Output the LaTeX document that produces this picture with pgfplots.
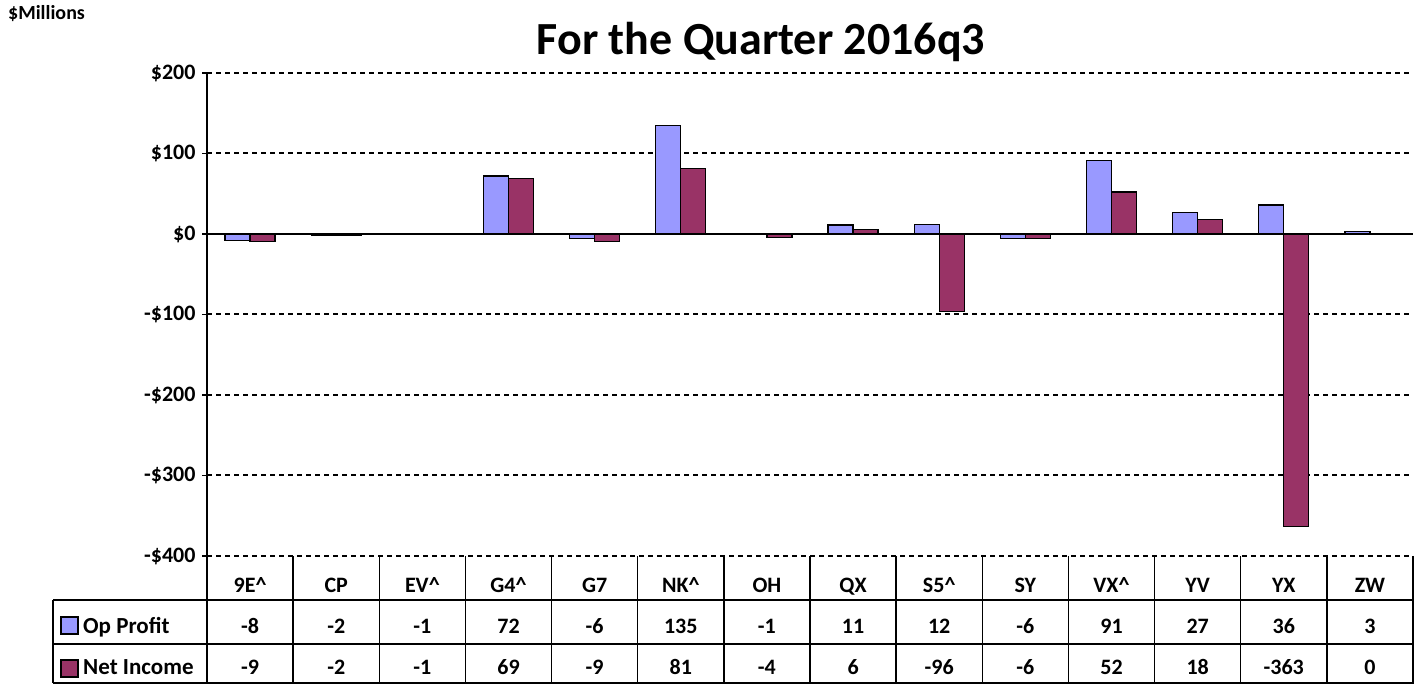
\documentclass[border=0pt]{standalone}
\usepackage{fontspec}
\setmainfont{Carlito}
\usepackage{pgfplots}
\pgfplotsset{compat=1.18}
\definecolor{opblue}{HTML}{9999FF}
\definecolor{netred}{HTML}{993366}
\begin{document}
\begin{tikzpicture}[x=1pt,y=1pt]
\useasboundingbox (0,0) rectangle (1414,684);
\clip (0,0) rectangle (1414,684);
\begin{axis}[at={(207pt,128pt)}, anchor=south west, scale only axis,
  width=1206pt, height=483pt,
  xmin=-0.5, xmax=13.5, ymin=-400, ymax=200,
  ybar=0pt, bar width=25pt,
  xtick=\empty,
  ytick={-400,-300,-200,-100,0,100,200},
  yticklabels={-\$400,-\$300,-\$200,-\$100,\$0,\$100,\$200},
  axis x line=none, axis y line*=left,
  ymajorgrids,
  grid style={black, line width=2pt, dash pattern=on 4.5pt off 4.5pt},
  y axis line style={black, line width=1.5pt, -},
  ytick style={black, line width=1.5pt},
  major tick length=10pt, tick align=center,
  yticklabel style={font=\fontsize{22}{26}\selectfont\bfseries, xshift=-3pt},
  clip=false]
\addplot[fill=opblue, draw=black, line width=1.3pt] coordinates {(0,-8) (1,-2) (2,-1) (3,72) (4,-6) (5,135) (6,-1) (7,11) (8,12) (9,-6) (10,91) (11,27) (12,36) (13,3)};
\addplot[fill=netred, draw=black, line width=1.3pt] coordinates {(0,-9) (1,-2) (2,-1) (3,69) (4,-9) (5,81) (6,-4) (7,6) (8,-96) (9,-6) (10,52) (11,18) (12,-363) (13,0)};
\draw[black, line width=1.5pt] (axis cs:-0.5,0) -- (axis cs:13.5,0);
\end{axis}
% titles
\node[anchor=base west, inner sep=0] at (477,691) {\fontsize{44}{48}\selectfont\bfseries Operating Profit and Net Income (Loss)};
\node[anchor=base, inner sep=0] at (761,629) {\fontsize{46}{50}\selectfont\bfseries For the Quarter 2016q3};
\node[anchor=base west, inner sep=0] at (8,664) {\fontsize{20}{24}\selectfont\bfseries \$Millions};
% data table
\begin{scope}[line width=1.5pt, black]
\draw (53,84) -- (1414,84);
\draw (53,40) -- (1414,40);
\draw (53,1) -- (1414,1);
\draw (53,84) -- (53,1);
\draw (207,128) -- (207,1);
\foreach \k in {1,...,14} {
  \pgfmathsetmacro\xx{207+86.143*\k}
  \draw (\xx,128) -- (\xx,1);
}
\end{scope}
\draw[fill=opblue, line width=1.2pt] (61,50) rectangle (78,67);
\draw[fill=netred, line width=1.2pt] (61,7) rectangle (78,24);
\node[anchor=base west, inner sep=0] at (83,50) {\fontsize{23}{26}\selectfont\bfseries Op Profit};
\node[anchor=base west, inner sep=0] at (83,9) {\fontsize{23}{26}\selectfont\bfseries Net Income};
\foreach \a/\b/\c [count=\i from 0] in {9E\textasciicircum/-8/-9, CP/-2/-2, EV\textasciicircum/-1/-1, G4\textasciicircum/72/69, G7/-6/-9, NK\textasciicircum/135/81, OH/-1/-4, QX/11/6, S5\textasciicircum/12/-96, SY/-6/-6, VX\textasciicircum/91/52, YV/27/18, YX/36/-363, ZW/3/0} {
  \pgfmathsetmacro\xx{207+86.143*(\i+0.5)}
  \node[anchor=base, inner sep=0] at (\xx,91) {\fontsize{22}{26}\selectfont\bfseries \a};
  \node[anchor=base, inner sep=0] at (\xx,50) {\fontsize{22}{26}\selectfont\bfseries \b};
  \node[anchor=base, inner sep=0] at (\xx,9) {\fontsize{22}{26}\selectfont\bfseries \c};
}
\end{tikzpicture}
\end{document}
